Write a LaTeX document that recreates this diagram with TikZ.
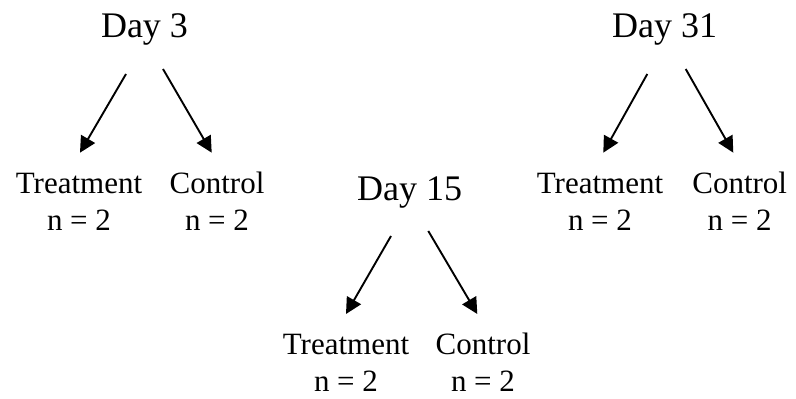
\documentclass[tikz,border=0pt]{standalone}
\usepackage{fontspec}
\setmainfont{Liberation Serif}
\usetikzlibrary{arrows.meta,calc}
\tikzset{
  day/.style={font=\fontsize{36}{40}\selectfont, inner sep=0pt, anchor=base},
  grp/.style={font=\fontsize{31}{37}\selectfont, inner sep=0pt, align=center, anchor=base},
  arr/.style={line width=1.9pt, -{Triangle[length=16pt,width=16pt]}}
}
\begin{document}
\begin{tikzpicture}[x=1pt,y=1pt]
\useasboundingbox (0,0) rectangle (796,399);
% Day 3
\node[day] (d3) at (144.5,361.3) {Day 3};
\node[grp] (t3) at (79,168.7) {Treatment\\n = 2};
\node[grp] (c3) at (217,168.7) {Control\\n = 2};
\draw[arr] ($(d3.base)+(-18.5,-36.3)$) -- ($(t3.base)+(1,77.6)$);
\draw[arr] ($(d3.base)+(18.5,-31.3)$) -- ($(c3.base)+(-5.3,77.6)$);
% Day 15
\node[day] (d15) at (409.7,198.3) {Day 15};
\node[grp] (t15) at (346,7) {Treatment\\n = 2};
\node[grp] (c15) at (483,7) {Control\\n = 2};
\draw[arr] ($(d15.base)+(-18.7,-35.3)$) -- ($(t15.base)+(0,78)$);
\draw[arr] ($(d15.base)+(18.6,-30.3)$) -- ($(c15.base)+(-5.7,78)$);
% Day 31
\node[day] (d31) at (664.7,361.7) {Day 31};
\node[grp] (t31) at (600,168.7) {Treatment\\n = 2};
\node[grp] (c31) at (739.7,168.7) {Control\\n = 2};
\draw[arr] ($(d31.base)+(-17.4,-36.7)$) -- ($(t31.base)+(3.3,77.6)$);
\draw[arr] ($(d31.base)+(21,-31.7)$) -- ($(c31.base)+(-6.4,77.6)$);
\end{tikzpicture}
\end{document}
